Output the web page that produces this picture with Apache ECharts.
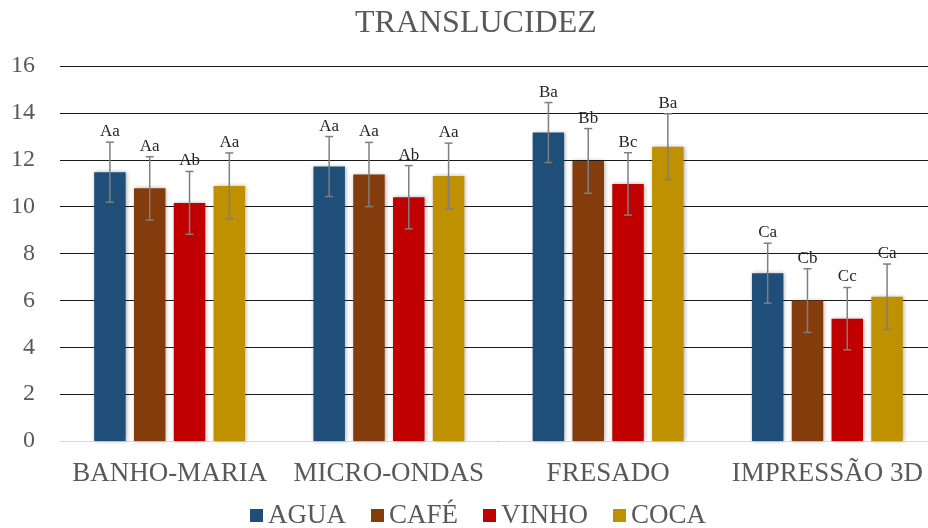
<!DOCTYPE html>
<html><head><meta charset="utf-8">
<script src="https://cdn.jsdelivr.net/npm/echarts@6/dist/echarts.min.js"></script>
<style>html,body{margin:0;padding:0;background:#fff;overflow:hidden;width:928px;height:528px}#c{width:937px;height:528px}</style>
</head><body><div id="c"></div>
<script>
const categories = ['BANHO-MARIA', 'MICRO-ONDAS', 'FRESADO', 'IMPRESSÃO 3D'];
const seriesNames = ['AGUA', 'CAFÉ', 'VINHO', 'COCA'];
const agua  = [11.47, 11.71, 13.16, 7.16];
const cafe  = [10.78, 11.37, 11.95, 5.99];
const vinho = [10.16, 10.40, 10.97, 5.22];
const coca  = [10.88, 11.31, 12.56, 6.15];
const aguaErr  = [1.28, 1.28, 1.28, 1.28];
const cafeErr  = [1.35, 1.37, 1.38, 1.36];
const vinhoErr = [1.34, 1.35, 1.33, 1.33];
const cocaErr  = [1.41, 1.40, 1.40, 1.40];
const aguaLbl  = ['Aa', 'Aa', 'Ba', 'Ca'];
const cafeLbl  = ['Aa', 'Aa', 'Bb', 'Cb'];
const vinhoLbl = ['Ab', 'Ab', 'Bc', 'Cc'];
const cocaLbl  = ['Aa', 'Aa', 'Ba', 'Ca'];
const yTicks = [0, 2, 4, 6, 8, 10, 12, 14, 16];

const colors = ['#1F4E79', '#843C0C', '#C00000', '#BF9000'];
const values = [agua, cafe, vinho, coca];
const errs = [aguaErr, cafeErr, vinhoErr, cocaErr];
const lbls = [aguaLbl, cafeLbl, vinhoLbl, cocaLbl];
const BW = 31.5, GAP = 8.3;
const FONT = 'Liberation Serif, Times New Roman, serif';

const chart = echarts.init(document.getElementById('c'));
const series = [];
seriesNames.forEach((name, si) => {
  series.push({
    name, type: 'bar', barWidth: BW, barGap: (GAP / BW * 100) + '%',
    data: values[si],
    itemStyle: { color: colors[si], shadowBlur: 4, shadowColor: 'rgba(0,0,0,0.3)', shadowOffsetX: 1, shadowOffsetY: 0 },
    z: 2
  });
});
seriesNames.forEach((name, si) => {
  series.push({
    name: name + '_err', type: 'custom',
    data: values[si].map((v, i) => [i, v, errs[si][i]]),
    encode: { x: 0, y: 1 },
    z: 5,
    renderItem: function (params, api) {
      const i = api.value(0), v = api.value(1), e = api.value(2);
      const lbl = lbls[si][params.dataIndex];
      const c = api.coord([i, v]);
      const x = c[0] + (si - 1.5) * (BW + GAP);
      const top = api.coord([i, v + e])[1];
      const bot = api.coord([i, v - e])[1];
      const st = { stroke: '#7F7F7F', lineWidth: 1.5 };
      return {
        type: 'group',
        children: [
          { type: 'line', shape: { x1: x, y1: top, x2: x, y2: bot }, style: st },
          { type: 'line', shape: { x1: x - 4, y1: top, x2: x + 4, y2: top }, style: st },
          { type: 'line', shape: { x1: x - 4, y1: bot, x2: x + 4, y2: bot }, style: st },
          { type: 'text', style: { x: x, y: top - 2, text: lbl, align: 'center', verticalAlign: 'bottom',
              fill: '#262626', font: '17px ' + FONT } }
        ]
      };
    }
  });
});

chart.setOption({
  animation: false,
  title: { text: 'TRANSLUCIDEZ', left: 355, top: 8, padding: 0,
    textStyle: { fontFamily: FONT, fontSize: 32, fontWeight: 'normal', color: '#595959' } },
  legend: {
    data: seriesNames, top: 502, left: 250, padding: 0, itemWidth: 13, itemHeight: 13, itemGap: 25,
    icon: 'rect',
    textStyle: { fontFamily: FONT, fontSize: 27, color: '#595959' }
  },
  grid: { left: 60, right: 0, top: 66, bottom: 87, containLabel: false },
  xAxis: {
    type: 'category', data: categories,
    axisTick: { show: false },
    axisLine: { lineStyle: { color: '#D9D9D9', width: 1 } },
    axisLabel: { fontFamily: FONT, fontSize: 27, color: '#595959', margin: 19, interval: 0 }
  },
  yAxis: {
    type: 'value', min: yTicks[0], max: yTicks[yTicks.length - 1], interval: 2,
    axisLine: { show: false }, axisTick: { show: false },
    splitLine: { lineStyle: { color: '#1a1a1a', width: 1.2 } },
    axisLabel: { fontFamily: FONT, fontSize: 24, color: '#595959', margin: 25 }
  },
  series
});
</script></body></html>
